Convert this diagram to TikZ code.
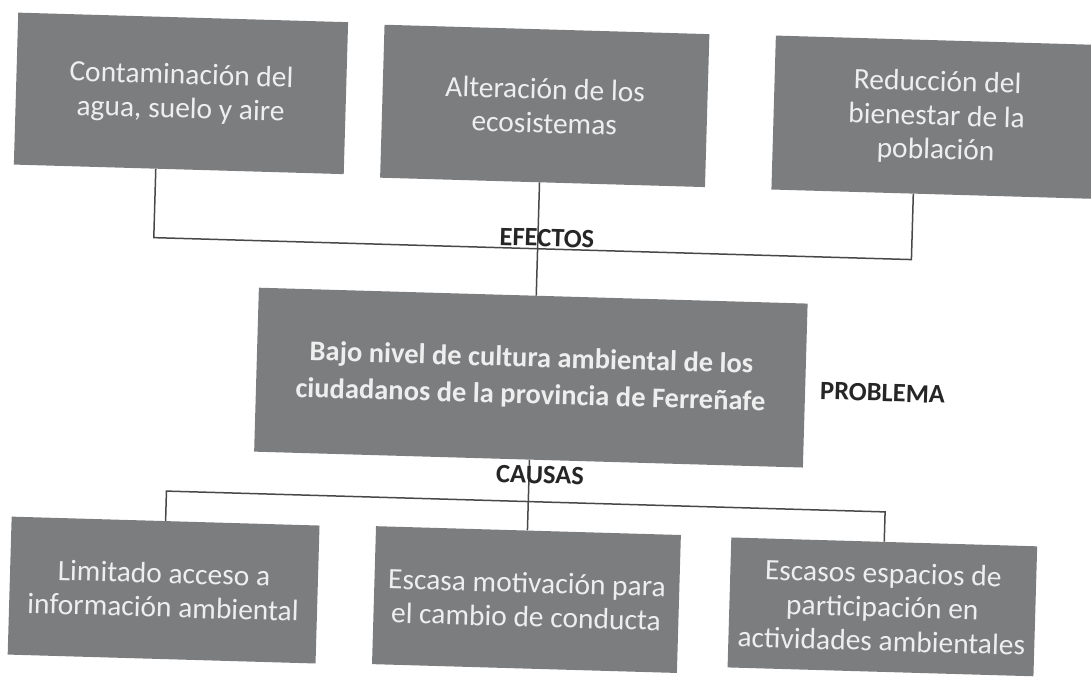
\documentclass[tikz,border=0pt]{standalone}
\usepackage{fontspec}
\setmainfont{Carlito}
\usepackage{xcolor}
\usepackage{tikz}
\usetikzlibrary{positioning,calc}
\definecolor{boxgray}{RGB}{124,125,127}
\definecolor{boxtext}{RGB}{238,238,238}
\definecolor{linegray}{RGB}{72,72,72}

\begin{document}
\begin{tikzpicture}[x=1pt,y=-1pt,
    box/.style={fill=boxgray, text=boxtext, align=center, inner sep=0pt,
        font=\fontsize{29.5}{34}\selectfont},
    mainbox/.style={box, font=\fontsize{28.5}{37}\selectfont\bfseries},
    lbl/.style={font=\fontsize{26.5}{30}\selectfont\bfseries, text=black!85},
    conn/.style={draw=linegray, line width=1.5pt}]
    \clip (0,0) rectangle (1091,678);

    % scanned page is slightly tilted
    \begin{scope}[rotate around={-1.66:(545,339)}, transform shape]

    % Effects
    \node[box, minimum width=330, minimum height=152] (e1) at (174,104)
        {Contaminación del\\agua, suelo y aire};
    \node[box, minimum width=325, minimum height=153] (e2) at (538,106)
        {Alteración de los\\ecosistemas};
    \node[box, minimum width=326, minimum height=154] (e3) at (930,106)
        {Reducción del\\bienestar de la\\población};

    % Problem
    \node[mainbox, minimum width=549, minimum height=164] (prob) at (532,378)
        {Bajo nivel de cultura ambiental de los\\ciudadanos de la provincia de Ferreñafe};

    % Causes
    \node[box, minimum width=308, minimum height=138] (c1) at (171,601)
        {Limitado acceso a\\información ambiental};
    \node[box, minimum width=305, minimum height=138] (c2) at (534,600)
        {Escasa motivación para\\el cambio de conducta};
    \node[box, minimum width=306, minimum height=130] (c3) at (890,597)
        {Escasos espacios de\\participación en\\actividades ambientales};

    % Connectors
    \coordinate (efbar) at (535,249);
    \coordinate (cabar) at (533,502);
    \draw[conn] ([xshift=-23]e1.south) |- (efbar) -| ([xshift=-21]e3.south);
    \draw[conn] (e2.south -| efbar) -- (prob.north -| efbar);
    \draw[conn] (c1.north) |- (cabar) -| (c3.north);
    \draw[conn] (prob.south -| cabar) -- (c2.north -| cabar);

    % Labels
    \node[lbl] (efectos) at (544,238) {EFECTOS};
    \node[lbl] (causas) at (544,475) {CAUSAS};
    \node[lbl] (problema) at (884,383) {PROBLEMA};
    \end{scope}
\end{tikzpicture}
\end{document}
